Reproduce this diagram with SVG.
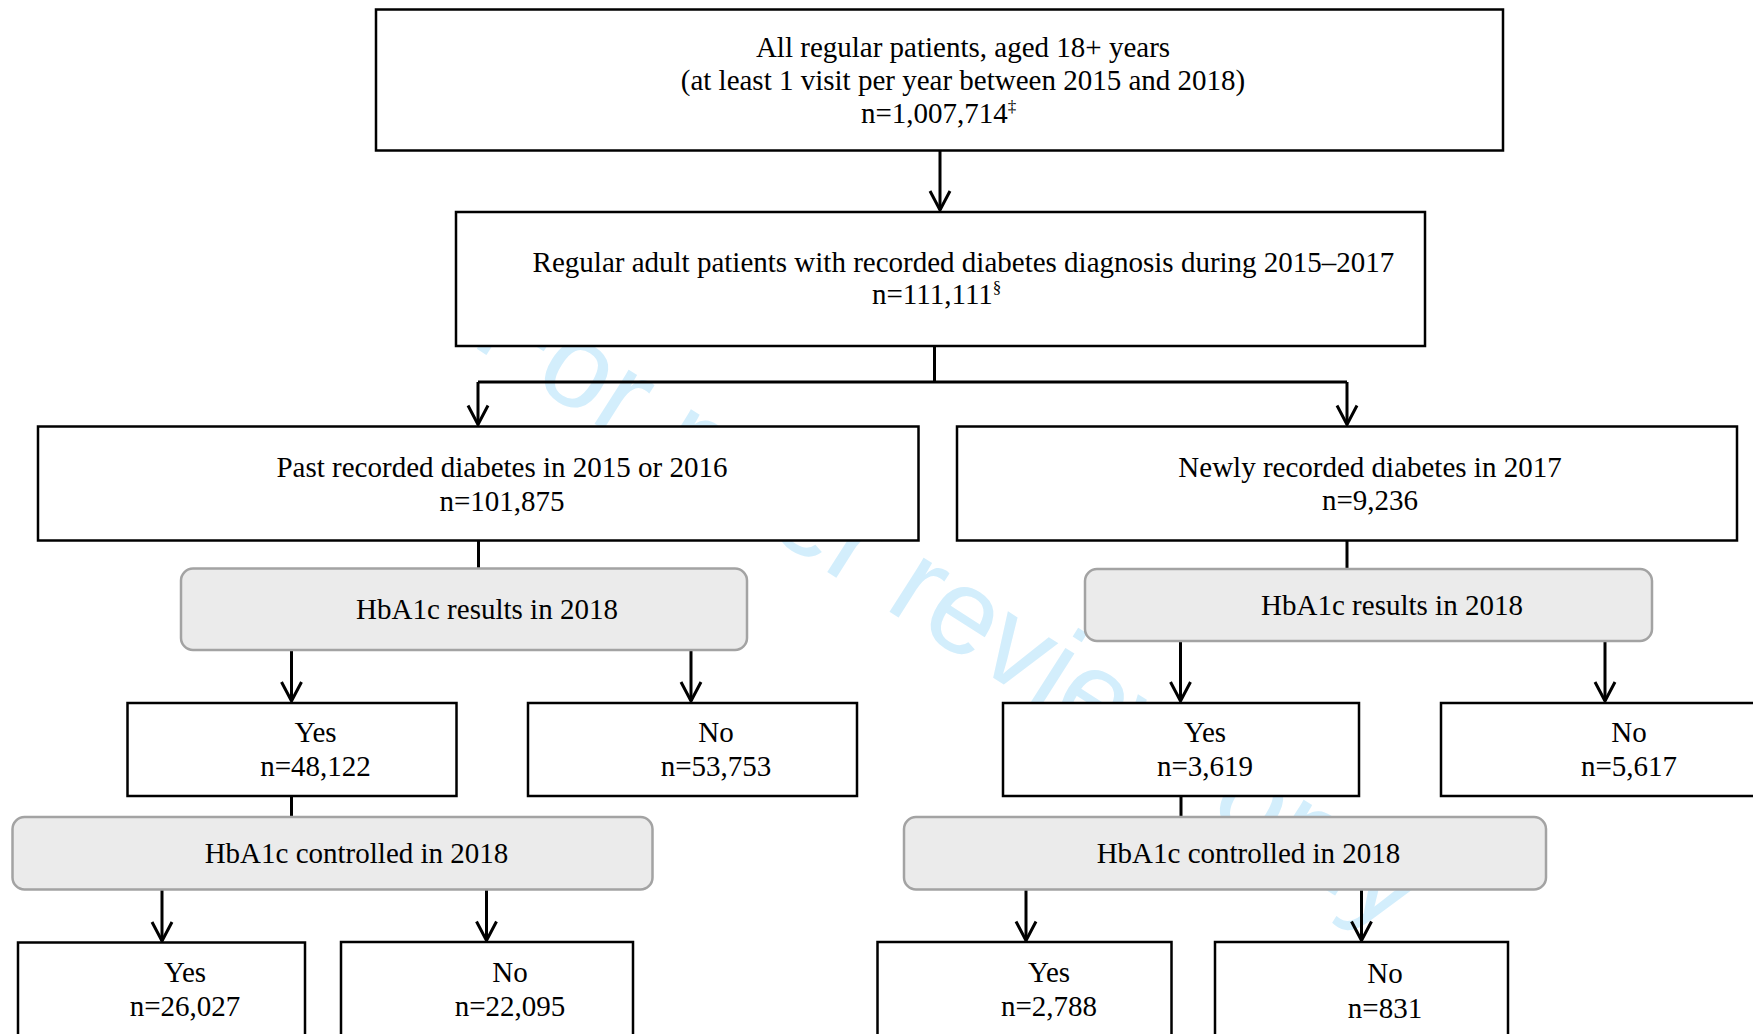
<svg xmlns="http://www.w3.org/2000/svg" width="1753" height="1034" viewBox="0 0 1753 1034">
  <style>
    .box { fill: #ffffff; stroke: #000000; stroke-width: 2.5; }
    .gbox { fill: #ebebeb; stroke: #a3a3a3; stroke-width: 2.5; }
    .t { font-family: "Liberation Serif", "Times New Roman", serif; font-size: 29px; fill: #000000; text-anchor: middle; }
    .ts { text-anchor: start; }
    .sup { font-size: 17px; }
    .wm { font-family: "Liberation Sans", Arial, sans-serif; font-size: 121px; fill: #d3eefc; }
    .ln { fill: none; stroke: #000000; stroke-width: 3; }
  </style>
  <defs>
    <marker id="arr" markerUnits="userSpaceOnUse" markerWidth="30" markerHeight="30" viewBox="-25 -15 30 30" refX="0" refY="0" orient="auto" overflow="visible">
      <path d="M-19,-10 L0,0 L-19,10" fill="none" stroke="#000000" stroke-width="3"/>
    </marker>
  </defs>
  <rect x="0" y="0" width="1753" height="1034" fill="#ffffff"/>

  <text class="wm" x="468.5" y="343.5" transform="rotate(32.5 468.5 343.5)">For peer review only</text>

  <g id="connectors">
    <path class="ln" d="M940,150.5 V210" marker-end="url(#arr)"/>
    <path class="ln" d="M934.5,346 V382"/>
    <path class="ln" d="M478,382 H1347"/>
    <path class="ln" d="M478,382 V424.5" marker-end="url(#arr)"/>
    <path class="ln" d="M1347,382 V424.5" marker-end="url(#arr)"/>
    <path class="ln" d="M478.5,540.5 V568.5"/>
    <path class="ln" d="M1347,540.5 V569"/>
    <path class="ln" d="M291.5,650 V701" marker-end="url(#arr)"/>
    <path class="ln" d="M691,650 V701" marker-end="url(#arr)"/>
    <path class="ln" d="M1180.5,641 V701" marker-end="url(#arr)"/>
    <path class="ln" d="M1605,641 V701" marker-end="url(#arr)"/>
    <path class="ln" d="M291.5,796 V817"/>
    <path class="ln" d="M1181,796 V817"/>
    <path class="ln" d="M162,889 V941" marker-end="url(#arr)"/>
    <path class="ln" d="M486.5,889 V940.5" marker-end="url(#arr)"/>
    <path class="ln" d="M1026,889 V940.5" marker-end="url(#arr)"/>
    <path class="ln" d="M1361.5,889 V940.5" marker-end="url(#arr)"/>
  </g>

  <g id="n-all">
    <rect class="box" x="376" y="9.5" width="1127" height="141"/>
    <text class="t" x="963" y="57">All regular patients, aged 18+ years</text>
    <text class="t" x="963" y="90">(at least 1 visit per year between 2015 and 2018)</text>
    <text class="t ts" x="861" y="123">n=1,007,714<tspan class="sup" dy="-11">‡</tspan></text>
  </g>

  <g id="n-diabetes">
    <rect class="box" x="456" y="212" width="969" height="134"/>
    <text class="t" x="963.5" y="272">Regular adult patients with recorded diabetes diagnosis during 2015–2017</text>
    <text class="t ts" x="872" y="304">n=111,111<tspan class="sup" dy="-11">§</tspan></text>
  </g>

  <g id="n-past">
    <rect class="box" x="38" y="426.5" width="880.5" height="114"/>
    <text class="t" x="502" y="477">Past recorded diabetes in 2015 or 2016</text>
    <text class="t" x="502" y="510.5">n=101,875</text>
  </g>

  <g id="n-new">
    <rect class="box" x="957" y="426.5" width="780" height="114"/>
    <text class="t" x="1370" y="477">Newly recorded diabetes in 2017</text>
    <text class="t" x="1370" y="510">n=9,236</text>
  </g>

  <g id="n-results-past">
    <rect class="gbox" x="181" y="568.5" width="566" height="81.5" rx="12" ry="12"/>
    <text class="t" x="487" y="619">HbA1c results in 2018</text>
  </g>

  <g id="n-results-new">
    <rect class="gbox" x="1085" y="569" width="567" height="72" rx="12" ry="12"/>
    <text class="t" x="1392" y="615">HbA1c results in 2018</text>
  </g>

  <g id="n-past-yes">
    <rect class="box" x="127.5" y="703" width="329" height="93"/>
    <text class="t" x="315.5" y="742">Yes</text>
    <text class="t" x="315.5" y="776">n=48,122</text>
  </g>

  <g id="n-past-no">
    <rect class="box" x="528" y="703" width="329" height="93"/>
    <text class="t" x="716" y="742">No</text>
    <text class="t" x="716" y="776">n=53,753</text>
  </g>

  <g id="n-new-yes">
    <rect class="box" x="1003" y="703" width="356" height="93"/>
    <text class="t" x="1205" y="742">Yes</text>
    <text class="t" x="1205" y="776">n=3,619</text>
  </g>

  <g id="n-new-no">
    <rect class="box" x="1441" y="703" width="330" height="93"/>
    <text class="t" x="1629" y="742">No</text>
    <text class="t" x="1629" y="776">n=5,617</text>
  </g>

  <g id="n-controlled-past">
    <rect class="gbox" x="12.5" y="817" width="640" height="72.5" rx="12" ry="12"/>
    <text class="t" x="356.5" y="863">HbA1c controlled in 2018</text>
  </g>

  <g id="n-controlled-new">
    <rect class="gbox" x="904" y="817" width="642" height="72.5" rx="12" ry="12"/>
    <text class="t" x="1248.5" y="863">HbA1c controlled in 2018</text>
  </g>

  <g id="n-past-ctrl-yes">
    <rect class="box" x="18" y="942.5" width="287" height="110"/>
    <text class="t" x="185" y="982">Yes</text>
    <text class="t" x="185" y="1016">n=26,027</text>
  </g>

  <g id="n-past-ctrl-no">
    <rect class="box" x="341" y="942" width="292" height="110"/>
    <text class="t" x="510" y="982">No</text>
    <text class="t" x="510" y="1016">n=22,095</text>
  </g>

  <g id="n-new-ctrl-yes">
    <rect class="box" x="877.5" y="942" width="294" height="110"/>
    <text class="t" x="1049" y="982">Yes</text>
    <text class="t" x="1049" y="1016">n=2,788</text>
  </g>

  <g id="n-new-ctrl-no">
    <rect class="box" x="1215" y="942" width="293" height="110"/>
    <text class="t" x="1385" y="983">No</text>
    <text class="t" x="1385" y="1018">n=831</text>
  </g>
</svg>
